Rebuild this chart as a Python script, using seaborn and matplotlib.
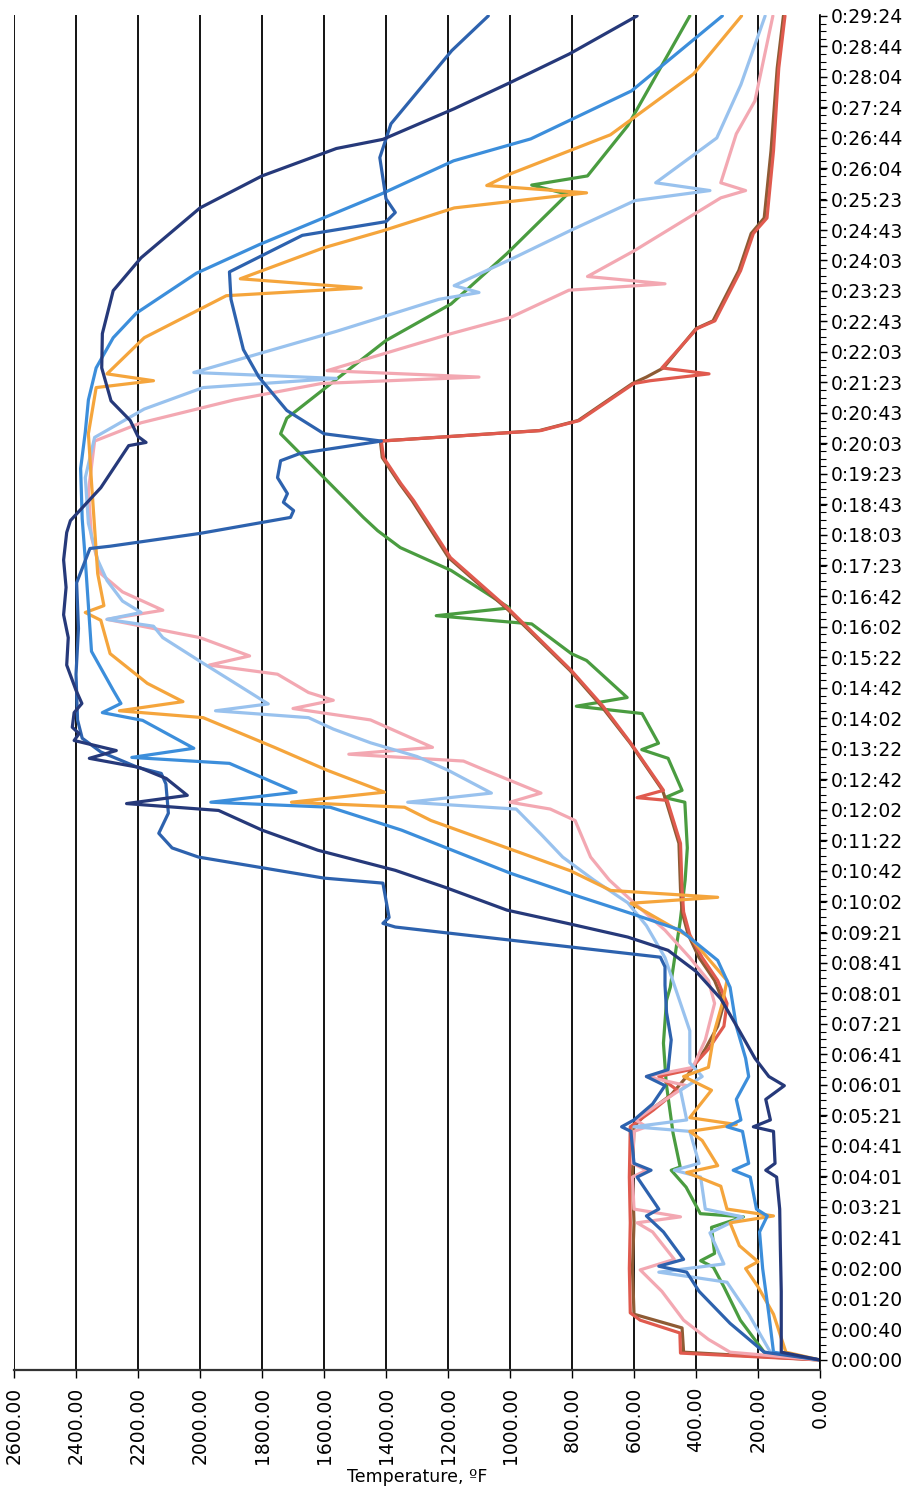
import numpy as np
import pandas as pd
import matplotlib
matplotlib.use("Agg")
import matplotlib.pyplot as plt
import seaborn as sns

# ---- time axis labels (h:mm:ss) ----
time_labels = [
    "0:00:00", "0:00:40", "0:01:20", "0:02:00", "0:02:41", "0:03:21", "0:04:01",
    "0:04:41", "0:05:21", "0:06:01", "0:06:41", "0:07:21", "0:08:01", "0:08:41",
    "0:09:21", "0:10:02", "0:10:42", "0:11:22", "0:12:02", "0:12:42", "0:13:22",
    "0:14:02", "0:14:42", "0:15:22", "0:16:02", "0:16:42", "0:17:23", "0:18:03",
    "0:18:43", "0:19:23", "0:20:03", "0:20:43", "0:21:23", "0:22:03", "0:22:43",
    "0:23:23", "0:24:03", "0:24:43", "0:25:23", "0:26:04", "0:26:44", "0:27:24",
    "0:28:04", "0:28:44", "0:29:24",
]
temp_ticks = list(range(0, 2601, 200))

# ---- thermocouple readings: time (min) and temperature (F) ----
navy_t = [0, 0.17, 1.5, 2.5, 3.3, 4.0, 4.15, 4.3, 5.0, 5.1, 5.25, 5.7, 6.0, 6.2, 6.6, 7.2, 7.9,
          8.5, 8.96, 9.25, 9.55, 9.84, 10.34, 10.71, 11.15, 11.59, 12.02, 12.17, 12.35, 12.72,
          12.96, 13.16, 13.33, 13.55, 13.7, 13.84, 14.16, 14.36, 14.65, 15.2, 15.8, 16.3, 16.9,
          17.5, 18.1, 18.36, 19.08, 20.0, 20.07, 20.2, 20.55, 20.98, 21.7, 22.45, 23.39, 24.11,
          25.2, 25.9, 26.5, 26.7, 27.37, 27.94, 28.57, 29.4]
navy_v = [0, 125, 125, 128, 130, 140, 175, 145, 150, 215, 160, 175, 115, 165, 210, 260, 320,
          400, 490, 620, 815, 1010, 1210, 1370, 1620, 1800, 1940, 2237, 2041, 2109,
          2196, 2357, 2270, 2406, 2390, 2412, 2406, 2381, 2400, 2430, 2425, 2440, 2432,
          2440, 2430, 2418, 2320, 2230, 2174, 2200, 2225, 2287, 2317, 2315, 2280, 2190,
          2000, 1800, 1560, 1410, 1180, 1000, 808, 590]

blue_t = [0, 0.17, 0.8, 1.5, 1.92, 2.05, 2.2, 2.8, 3.15, 3.3, 4.0, 4.15, 4.3, 5.0, 5.1, 5.25,
          5.6, 6.0, 6.2, 6.35, 7.0, 7.6, 8.2, 8.6, 8.81, 9.47, 9.55, 9.68, 10.43, 10.54, 11.0,
          11.2, 11.52, 11.96, 12.6, 12.83, 12.96, 13.3, 13.6, 14.0, 15.0, 16.0, 17.0, 17.75,
          17.8, 18.08, 18.43, 18.58, 18.76, 18.95, 19.3, 19.67, 19.83, 20.1, 20.26, 20.77, 21.5,
          22.1, 23.2, 23.8, 24.6, 24.9, 25.1, 25.4, 26.3, 27.04, 28.64, 29.4]
blue_v = [0, 180, 290, 390, 430, 520, 440, 505, 560, 520, 590, 545, 600, 610, 640, 600,
          540, 500, 560, 490, 480, 495, 500, 500, 515, 1370, 1410, 1390, 1410, 1600, 2005,
          2090, 2133, 2102, 2110, 2125, 2200, 2320, 2380, 2395, 2400, 2392, 2398, 2355,
          2290, 2000, 1708, 1698, 1731, 1718, 1750, 1740, 1677, 1415, 1600, 1720, 1810,
          1860, 1900, 1905, 1670, 1400, 1370, 1400, 1420, 1384, 1188, 1070]

bright_t = [0, 0.17, 1.0, 2.0, 2.8, 3.15, 3.3, 4.0, 4.15, 4.3, 5.0, 5.1, 5.25, 5.7, 6.2, 6.6,
            7.3, 8.15, 8.74, 9.4, 9.77, 10.2, 10.65, 11.59, 12.09, 12.2, 12.42, 13.05, 13.18,
            13.38, 13.99, 14.16, 14.36, 14.65, 15.5, 16.5, 17.5, 18.4, 19.5, 20.3, 21.0, 21.7,
            22.36, 22.9, 23.77, 24.4, 24.98, 25.5, 26.23, 26.71, 27.76, 29.4]
bright_v = [0, 150, 165, 185, 195, 170, 205, 225, 280, 230, 250, 300, 255, 270, 230, 240,
            270, 290, 330, 450, 611, 806, 1000, 1350, 1580, 1965, 1690, 1905, 2220,
            2020, 2185, 2315, 2255, 2280, 2350, 2360, 2370, 2380, 2385, 2370, 2360, 2335,
            2280, 2205, 2012, 1808, 1602, 1417, 1182, 933, 608, 315]

orange_t = [0, 0.17, 1.0, 1.6, 2.0, 2.15, 2.5, 3.0, 3.15, 3.3, 3.8, 4.1, 4.25, 4.8, 5.0, 5.15,
            5.3, 5.9, 6.2, 6.4, 7.2, 7.8, 8.3, 9.25, 9.99, 10.12, 10.27, 10.7, 11.8, 12.09,
            12.2, 12.42, 12.9, 13.4, 14.05, 14.2, 14.4, 14.8, 15.45, 16.18, 16.35, 16.5, 17.2,
            18.2, 19.2, 20.26, 21.27, 21.42, 21.57, 22.36, 23.28, 23.45, 23.65, 24.33, 24.7,
            25.2, 25.53, 25.69, 25.95, 26.8, 28.13, 29.4]
orange_v = [0, 110, 150, 200, 240, 200, 260, 290, 150, 300, 320, 430, 330, 380, 420, 270,
            420, 350, 440, 360, 340, 315, 300, 420, 610, 330, 675, 805, 1255, 1340,
            1705, 1405, 1590, 1760, 1990, 2260, 2055, 2170, 2290, 2320, 2370, 2310, 2330,
            2340, 2350, 2360, 2335, 2150, 2300, 2180, 1915, 1480, 1870, 1600, 1410,
            1180, 753, 1075, 997, 676, 408, 253]

light_t = [0, 0.17, 1.0, 1.7, 1.92, 2.1, 2.78, 3.13, 3.3, 4.0, 4.15, 4.3, 5.0, 5.1, 5.25, 5.9,
           6.2, 6.5, 7.2, 8.0, 8.8, 9.5, 10.0, 10.5, 11.0, 11.5, 12.05, 12.2, 12.4, 12.9, 13.2,
           13.5, 13.8, 14.05, 14.2, 14.35, 14.86, 15.24, 15.8, 16.05, 16.2, 16.35, 16.6, 17.05,
           17.5, 18.3, 19.3, 20.18, 20.8, 21.27, 21.47, 21.6, 22.5, 23.2, 23.35, 23.5, 24.1,
           24.7, 25.36, 25.58, 25.75, 26.73, 27.9, 29.4]
light_v = [0, 160, 230, 300, 520, 310, 355, 250, 370, 385, 470, 390, 420, 600, 430, 450,
           380, 420, 420, 460, 500, 560, 620, 730, 830, 900, 980, 1330, 1060, 1200, 1300,
           1450, 1570, 1650, 1950, 1780, 1900, 1990, 2120, 2150, 2300, 2190, 2250, 2300,
           2330, 2360, 2370, 2340, 2180, 1990, 1560, 2020, 1560, 1230, 1100, 1180, 990,
           807, 597, 355, 530, 333, 255, 177]

pink_t = [0, 0.17, 0.45, 0.87, 1.5, 1.97, 2.2, 2.8, 3.0, 3.13, 3.3, 4.0, 4.15, 4.3, 5.0, 5.1,
          5.25, 5.6, 6.0, 6.2, 6.4, 7.0, 7.8, 8.3, 8.8, 9.4, 10.0, 10.5, 11.0, 11.8, 12.05, 12.2,
          12.4, 12.9, 13.1, 13.25, 13.4, 14.0, 14.25, 14.43, 14.6, 15.0, 15.2, 15.4, 15.8, 16.2,
          16.4, 16.8, 17.2, 18.0, 19.0, 20.1, 20.5, 21.0, 21.36, 21.5, 21.64, 22.45, 22.8,
          23.4, 23.54, 23.7, 24.26, 25.42, 25.58, 25.75, 26.82, 27.54, 29.4]
pink_v = [0, 290, 360, 440, 510, 580, 470, 540, 590, 450, 600, 605, 560, 605, 600, 560,
          595, 520, 430, 560, 410, 370, 340, 360, 420, 500, 600, 680, 740, 790, 870, 1000,
          900, 1080, 1150, 1520, 1250, 1450, 1700, 1570, 1650, 1750, 1970, 1840, 2000, 2300,
          2120, 2250, 2320, 2350, 2360, 2340, 2190, 1890, 1608, 1100, 1590, 1190, 1000,
          810, 500, 750, 600, 320, 240, 320, 270, 210, 152]

red_t = [0, 0.15, 0.59, 0.87, 1.03, 2.0, 3.0, 4.0, 5.1, 5.47, 5.9, 6.2, 6.35, 6.8, 7.3, 7.8,
         8.3, 8.8, 9.3, 9.8, 10.3, 11.3, 12.24, 12.3, 12.46, 13.49, 14.3, 15.08, 16.4, 17.55,
         18.8, 19.17, 19.74, 20.1, 20.33, 20.55, 21.36, 21.42, 21.57, 21.7, 22.56, 22.73,
         23.83, 24.64, 24.98, 26.45, 28.26, 29.4]
red_v = [0, 450, 452, 580, 612, 615, 612, 615, 612, 537, 460, 520, 420, 360, 310, 300,
         330, 380, 420, 440, 445, 450, 493, 590, 505, 610, 700, 802, 1000, 1192,
         1311, 1352, 1408, 1415, 900, 776, 600, 548, 358, 510, 397, 339,
         256, 215, 171, 150, 133, 113]

brown_t = [0, 0.17, 0.7, 1.0, 2.0, 3.0, 4.0, 5.1, 5.4, 5.8, 6.2, 6.8, 7.3, 7.8, 8.3, 8.8, 9.3,
           9.8, 10.3, 11.3, 12.24, 12.46, 13.49, 14.3, 15.08, 16.4, 17.55, 18.8, 19.17, 19.74,
           20.1, 20.33, 20.55, 21.36, 21.5, 21.7, 22.56, 22.73, 23.83, 24.64, 24.98, 26.45,
           28.26, 29.4]
brown_v = [0, 440, 445, 600, 605, 600, 605, 600, 560, 480, 430, 370, 330, 310, 340, 390, 425,
           445, 450, 455, 497, 508, 612, 705, 806, 1005, 1198, 1316, 1356, 1412,
           1418, 905, 780, 605, 560, 505, 400, 345, 262, 222, 180, 158,
           138, 118]

green_t = [0, 0.17, 0.87, 1.6, 2.03, 2.17, 2.33, 2.9, 3.13, 3.2, 3.78, 4.15, 4.22, 4.96, 6.05,
           6.93, 7.87, 8.15, 9.6, 10.5, 11.2, 12.2, 12.3, 12.46, 13.16, 13.35, 13.49, 14.14,
           14.3, 14.49, 15.3, 15.45, 16.1, 16.28, 16.45, 17.27, 17.77, 18.14, 18.43, 20.26,
           20.6, 21.42, 22.3, 23.1, 24.2, 24.7, 25.5, 25.7, 25.9, 27.0, 29.4]
green_v = [0, 180, 257, 310, 344, 385, 340, 350, 247, 386, 432, 480, 451, 474, 496,
           505, 495, 483, 451, 435, 428, 436, 500, 445, 490, 575, 521, 574,
           786, 622, 753, 802, 930, 1238, 1002, 1190, 1354, 1427, 1473, 1740,
           1720, 1566, 1400, 1190, 1010, 935, 815, 930, 750, 620, 420]

series = [
    ("TC-9", green_t, green_v, "#4a9c40"),
    ("TC-8", brown_t, brown_v, "#8e5b34"),
    ("TC-7", red_t, red_v, "#e05a4e"),
    ("TC-6", pink_t, pink_v, "#f3a8b2"),
    ("TC-5", light_t, light_v, "#99c2ee"),
    ("TC-4", orange_t, orange_v, "#f5a53c"),
    ("TC-3", bright_t, bright_v, "#3c8edb"),
    ("TC-2", blue_t, blue_v, "#2d62ae"),
    ("TC-1", navy_t, navy_v, "#26397a"),
]

frames = [pd.DataFrame({"time": t, "temp": v, "tc": name}) for name, t, v, _ in series]
df = pd.concat(frames, ignore_index=True)
palette = {name: c for name, _, _, c in series}


def to_minutes(label):
    h, m, s = (int(p) for p in label.split(":"))
    return h * 60 + m + s / 60.0


tick_pos = [to_minutes(s) for s in time_labels]

sns.set_theme(style="white")
plt.rcParams["font.family"] = ["DejaVu Sans"]

fig = plt.figure(figsize=(9.06, 14.93), dpi=100)
ax = fig.add_axes([14 / 906, 123 / 1493, (820 - 14) / 906, (1370 - 15) / 1493])

sns.lineplot(data=df, x="temp", y="time", hue="tc", palette=palette,
             hue_order=[s[0] for s in series], orient="y", sort=False,
             estimator=None, legend=False, linewidth=2.3, ax=ax)

ax.set_xlim(2600, 0)
ax.set_ylim(-0.22, 29.42)

# temperature axis (bottom)
ax.set_xticks(temp_ticks)
ax.set_xticklabels([f"{v:.2f}" for v in temp_ticks], rotation=90, fontsize=13.5)
ax.tick_params(axis="x", direction="out", length=6, width=1, color="black", pad=6,
               bottom=True, labelcolor="black")
ax.xaxis.grid(True, color="black", linewidth=1.3)
ax.yaxis.grid(False)
ax.set_xlabel("Temperature, ºF", fontsize=12.5, labelpad=3, color="black")

# time axis (right)
ax.yaxis.tick_right()
ax.set_yticks(tick_pos)
ax.set_yticklabels(time_labels, fontsize=13.5)
minor = np.linspace(tick_pos[0], tick_pos[-1], (len(tick_pos) - 1) * 4 + 1)
ax.set_yticks(minor, minor=True)
ax.tick_params(axis="y", which="major", direction="out", length=5, width=1,
               color="black", pad=3, right=True, left=False, labelcolor="black")
ax.tick_params(axis="y", which="minor", direction="out", length=4, width=0.8,
               color="black", right=True, left=False)
ax.set_ylabel("")

for side in ("top", "left"):
    ax.spines[side].set_visible(False)
ax.spines["right"].set_color("black")
ax.spines["right"].set_linewidth(1.2)
ax.spines["bottom"].set_color("#333333")
ax.spines["bottom"].set_linewidth(1.6)

fig.savefig("out.png", dpi=100, facecolor="white")
